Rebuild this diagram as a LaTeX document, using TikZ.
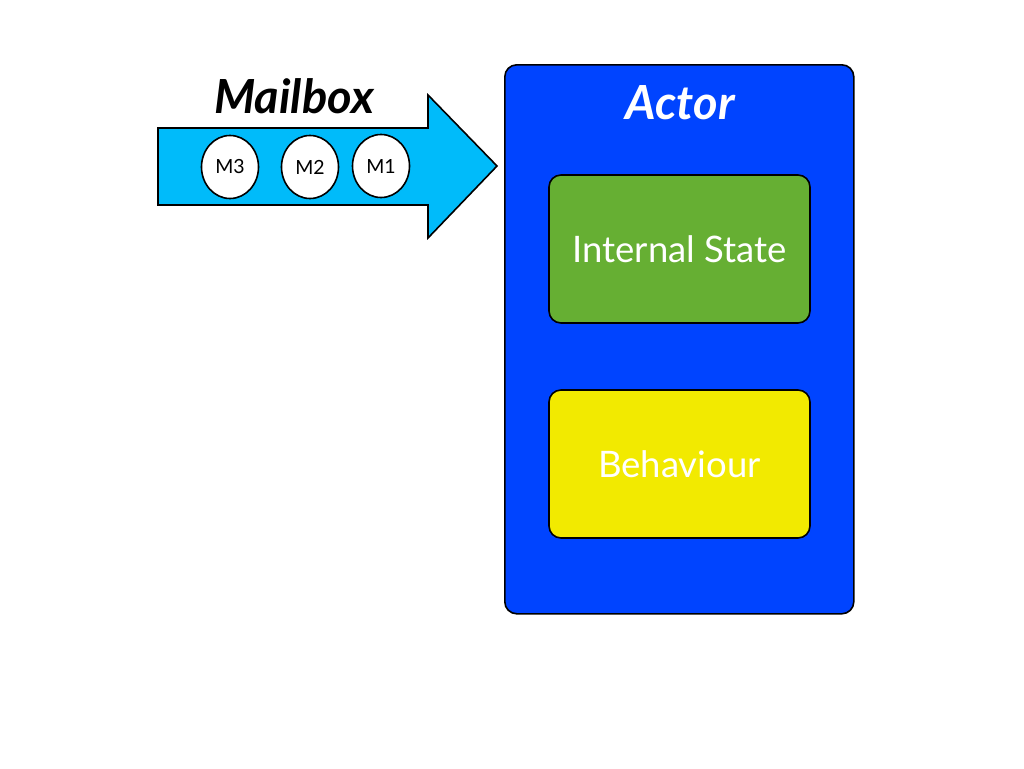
\documentclass[tikz,border=0pt]{standalone}
\usepackage{fontspec}
\setmainfont{Lato}
\definecolor{arrowblue}{RGB}{0,187,250}
\definecolor{actorblue}{RGB}{0,68,255}
\definecolor{stategreen}{RGB}{102,175,51}
\definecolor{behyellow}{RGB}{242,234,0}
\tikzset{
  outline/.style={draw=black, line width=1.6pt},
  msg/.style={outline, fill=white, ellipse, minimum width=57pt, minimum height=63pt, inner sep=0pt, font=\fontsize{19.5}{22}\selectfont},
  innerbox/.style={outline, rounded corners=12pt, minimum width=261pt, minimum height=148pt, text=white, font=\fontsize{36.5}{40}\selectfont},
  titletext/.style={font=\fontsize{47}{50}\selectfont\bfseries\itshape}
}
\usetikzlibrary{shapes.geometric}
\begin{document}
\begin{tikzpicture}[x=1pt,y=-1pt]
\useasboundingbox (0,0) rectangle (1024,768);
% actor container
\node[outline, fill=actorblue, rounded corners=12pt, minimum width=349pt, minimum height=549pt, anchor=north west] (actor) at (504,64) {};
\node[titletext, text=white] (actortitle) at (680,103) {Actor};
\node[innerbox, fill=stategreen] (state) at (679.5,249) {Internal State};
\node[innerbox, fill=behyellow] (behav) at (679.5,464) {Behaviour};
% mailbox arrow
\draw[outline, fill=arrowblue, line join=miter] (158,128) -- (428,128) -- (428,95) -- (497,166) -- (428,238) -- (428,205) -- (158,205) -- cycle;
\node[titletext] (mailboxtitle) at (294,96) {Mailbox};
\node[msg] (m3) at (230,167) {M3};
\node[msg] (m2) at (310,167) {M2};
\node[msg] (m1) at (381,166) {M1};
\end{tikzpicture}
\end{document}
